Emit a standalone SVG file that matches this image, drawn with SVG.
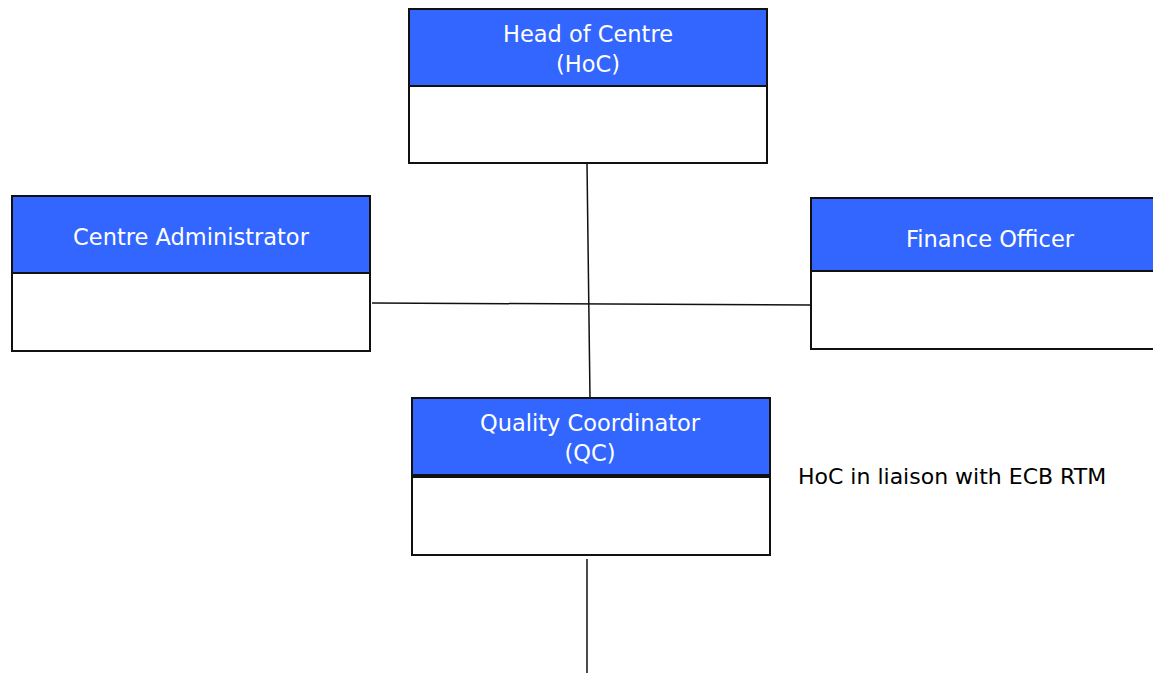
<svg xmlns="http://www.w3.org/2000/svg" width="1153" height="673" viewBox="0 0 1153 673">
<style>
.hdr{fill:#3366FF;stroke:#111;stroke-width:2}
.body{fill:#fff;stroke:#111;stroke-width:2}
.t{font-family:"DejaVu Sans",Verdana,sans-serif;font-size:22.5px;fill:#fff;text-anchor:middle}
.note{font-family:"DejaVu Sans",Verdana,sans-serif;font-size:22px;fill:#000}
.c{stroke:#111;stroke-width:1.5;fill:none}
</style>
<rect width="1153" height="673" fill="#fff"/>
<g id="connectors">
<line class="c" x1="587" y1="163" x2="590" y2="398"/>
<line class="c" x1="372" y1="303" x2="811" y2="305"/>
<line class="c" x1="587" y1="559" x2="587" y2="673"/>
</g>
<g id="hoc">
<rect class="body" x="409" y="86" width="358" height="77"/>
<rect class="hdr" x="409" y="9" width="358" height="77"/>
<text class="t" x="588" y="42">Head of Centre</text>
<text class="t" x="588" y="72">(HoC)</text>
</g>
<g id="admin">
<rect class="body" x="12" y="273" width="358" height="78"/>
<rect class="hdr" x="12" y="196" width="358" height="77"/>
<text class="t" x="191" y="245">Centre Administrator</text>
</g>
<g id="finance">
<rect class="body" x="811" y="271" width="350" height="78"/>
<rect class="hdr" x="811" y="198" width="350" height="73"/>
<text class="t" x="990" y="247">Finance Officer</text>
</g>
<g id="qc">
<rect class="hdr" x="412" y="398" width="358" height="77"/>
<rect class="body" x="412" y="477" width="358" height="78"/>
<text class="t" x="590" y="431">Quality Coordinator</text>
<text class="t" x="590" y="461">(QC)</text>
</g>
<g id="note">
<text class="note" x="798" y="484">HoC in liaison with ECB RTM</text>
</g>
</svg>
